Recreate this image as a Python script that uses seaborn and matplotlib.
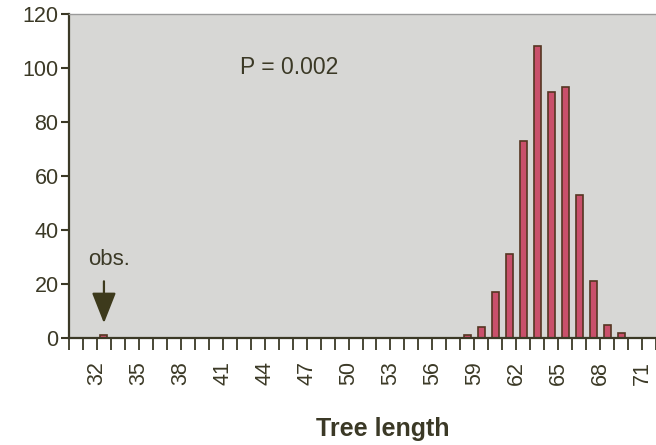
import matplotlib
matplotlib.use("Agg")
import matplotlib.pyplot as plt
import seaborn as sns
import pandas as pd
import numpy as np

# ---- data ----
tree_length = [32, 58, 59, 60, 61, 62, 63, 64, 65, 66, 67, 68, 69]
counts      = [1, 1, 4, 17, 31, 73, 108, 91, 93, 53, 21, 5, 2]
observed_length = 32
p_text = "P = 0.002"
tick_values = list(range(32, 72, 3))   # 32, 35, ..., 71
y_ticks = [0, 20, 40, 60, 80, 100, 120]

df = pd.DataFrame({"tree_length": tree_length, "count": counts})

sns.set_style("ticks")
plt.rcParams["font.family"] = ["Liberation Sans", "DejaVu Sans"]

ink = "#3b3926"
fig = plt.figure(figsize=(6.56, 4.45), dpi=100)
fig.patch.set_facecolor("white")
ax = fig.add_axes([69 / 656, 107 / 445, 594 / 656, 324 / 445])
ax.set_facecolor("#d7d7d5")

sns.barplot(data=df, x="tree_length", y="count", native_scale=True,
            width=0.5, color="#c9506b", edgecolor="#553622", linewidth=1.2,
            errorbar=None, saturation=1, ax=ax)

ax.set_xlim(29.5, 72.0)
ax.set_ylim(0, 120)

# bins: ticks at bin edges, labels on the left edge of each bin
ax.set_xticks([v - 0.5 for v in tick_values])
ax.set_xticklabels([str(v) for v in tick_values], rotation=90)
ax.set_xticks(np.arange(29.5, 72.0, 1.0), minor=True)
ax.tick_params(axis="x", which="both", direction="out", length=8.5, width=1.3,
               color=ink, labelsize=15.5, labelcolor=ink, pad=8)
ax.set_yticks(y_ticks)
ax.tick_params(axis="y", which="major", direction="out", length=6, width=1.5,
               color=ink, labelsize=15.5, labelcolor=ink, pad=1.5)

for s in ("left", "bottom"):
    ax.spines[s].set_color(ink)
    ax.spines[s].set_linewidth(1.6)
ax.spines["top"].set_color("#9a9a9a")
ax.spines["top"].set_linewidth(1.0)
ax.spines["right"].set_visible(False)

ax.set_xlabel("Tree length", fontsize=18, fontweight="bold", color=ink)
ax.xaxis.set_label_coords((383 - 69) / 594, -(429 - 338) / 324, transform=ax.transAxes)
ax.xaxis.label.set_verticalalignment("center")
ax.set_ylabel("")

ax.text((289 - 69) / 594, (338 - 67) / 324, p_text, transform=ax.transAxes,
        ha="center", va="center", fontsize=16.5, color=ink)
ax.text(observed_length + 0.35, 29.2, "obs.", ha="center", va="center",
        fontsize=16, color=ink)
ax.annotate("", xy=(observed_length, 5.5), xytext=(observed_length, 21),
            arrowprops=dict(arrowstyle="-|>,head_length=1.9,head_width=0.75",
                            color="#3d3a1c", lw=1.6, mutation_scale=10,
                            shrinkA=0, shrinkB=0))

fig.savefig("out.png", dpi=100)
